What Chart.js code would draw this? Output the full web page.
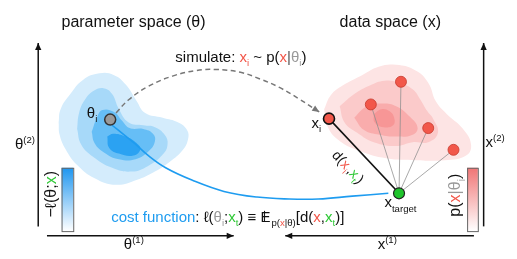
<!DOCTYPE html>
<html><head><meta charset="utf-8">
<script src="https://cdn.jsdelivr.net/npm/chart.js@4"></script>
<style>html,body{margin:0;padding:0;background:#fff;}canvas{display:block;}</style>
</head><body>
<canvas id="c" width="517" height="259"></canvas>
<script>
// ---- values (coordinates in the diagram's own units) ----
const thetaContour1 = [[53,122],[55,108],[65,92],[78,77],[95,70],[110,72],[122,82],[133,99],[142,112],[160,117],[176,122],[185,130],[186,140],[180,152],[168,163],[152,174],[133,183],[112,188],[90,181],[72,167],[60,150],[54,135]];
const thetaContour2 = [[72,129],[74,112],[80,98],[90,88],[100,86],[108,92],[115,108],[125,122],[140,125],[152,127],[162,135],[165,145],[160,156],[145,168],[128,174],[108,170],[88,158],[76,145]];
const thetaContour3 = [[87,132],[92,118],[98,109],[110,111],[118,120],[126,128],[140,129],[150,134],[152,142],[146,152],[132,161],[115,161],[100,154],[90,144]];
const thetaContour4 = [[103,137],[109,134],[122,137],[132,143],[137,150],[130,157],[115,155],[105,149]];

const xContour1 = [[326,108],[333,93],[345,83],[365,72],[382,63],[400,61],[420,67],[433,80],[441,100],[452,113],[468,128],[477,145],[472,157],[450,162],[420,162],[390,160],[362,152],[340,140],[329,125]];
const xContour2 = [[342,105],[357,92],[373,83],[388,78],[403,80],[417,87],[425,98],[432,110],[438,118],[443,133],[433,143],[417,143],[400,147],[377,143],[360,133],[347,122]];
const xContour3 = [[357,117],[370,105],[387,102],[400,105],[413,115],[422,127],[417,135],[400,137],[383,135],[367,130]];
const xContour4 = [[377,113],[385,108],[393,110],[398,117],[397,125],[387,127],[378,122]];

const thetaI = [[106,119]];
const xI = [[331,118]];
const xSamples = [[374,103],[405,79],[433,128],[459,151]];
const xTarget = [[403,197]];

const simulateArc = [[112,112],[125,98],[145,84],[170,73],[195,67],[215,66],[240,69],[260,76],[280,85],[300,97],[321,111]];
const costCurve = [[108,125],[120,135],[132,145],[145,157],[163,170],[190,183],[223,195],[257,201],[290,203],[320,203],[355,200],[392,197]];

const thetaAxisV = [[32,232],[32,38]];
const thetaAxisH = [[41,242],[233,242]];
const xAxisV = [[490,232],[490,38]];
const xAxisH = [[480,242],[286,242]];

// ---- styles ----
const RED = '#f2574a', GREEN = '#2fc936', BLUE = '#1e9cf0', GRAY = '#999';
const FONT = '"Liberation Sans", Arial, Helvetica, sans-serif';

const P = a => a.map(([x, y]) => ({x, y}));
const closed = a => P(a.concat([a[0]]));

function blob(data, color) {
  return {data: closed(data), backgroundColor: color, borderWidth: 0, fill: 'shape', tension: 0.45, pointRadius: 0};
}
function curve(data, color, width, extra) {
  return Object.assign({data: P(data), borderColor: color, borderWidth: width, fill: false, tension: 0.4, pointRadius: 0}, extra || {});
}
function dots(data, fill, stroke, r, bw) {
  return {data: P(data), showLine: false, pointRadius: r, pointBackgroundColor: fill, pointBorderColor: stroke, pointBorderWidth: bw};
}

const layers = [
  blob(thetaContour1, '#d4ecfc'),
  blob(thetaContour2, '#a7d9f9'),
  blob(thetaContour3, '#66bef6'),
  blob(thetaContour4, '#2ba2f2'),
  blob(xContour1, '#fde4e4'),
  blob(xContour2, '#fbcaca'),
  blob(xContour3, '#f9acac'),
  blob(xContour4, '#f79696'),
  ...xSamples.map(s => curve([xTarget[0], s], 'rgba(140,140,140,0.75)', 1, {tension: 0})),
  curve([xI[0], xTarget[0]], '#111', 1.6, {tension: 0}),
  curve(simulateArc, '#777', 1.5, {borderDash: [5, 3.5], arrowEnd: 7}),
  curve(costCurve, BLUE, 1.6),
  curve(thetaAxisV, '#111', 1.5, {tension: 0, arrowEnd: 7}),
  curve(thetaAxisH, '#111', 1.5, {tension: 0, arrowEnd: 7}),
  curve(xAxisV, '#111', 1.5, {tension: 0, arrowEnd: 7}),
  curve(xAxisH, '#111', 1.5, {tension: 0, arrowEnd: 7}),
  dots(thetaI, '#9a9a9a', '#333', 5.5, 1.5),
  dots(xSamples, RED, '#c5392c', 5.5, 0.8),
  dots(xI, RED, '#111', 5.5, 1.6),
  dots(xTarget, '#1fc42c', '#222', 5.5, 1.2),
];
layers.forEach((d, i) => { d.order = layers.length - i; d.clip = false; });

// rich text: segments [text, color, kind]
function rich(ctx, segs, x, y, size, align) {
  const parts = segs.map(([t, c, k]) => {
    const s = (k === 'sub' || k === 'sup') ? size * 0.64 : size;
    ctx.font = s + 'px ' + FONT;
    const w = k === 'bb' ? ctx.measureText('E').width + 1 : ctx.measureText(t).width;
    return {t, c: c || '#111', k, s, w};
  });
  const total = parts.reduce((a, p) => a + p.w, 0);
  let cx = align === 'center' ? x - total / 2 : x;
  ctx.textBaseline = 'alphabetic'; ctx.textAlign = 'left';
  for (const p of parts) {
    ctx.font = p.s + 'px ' + FONT;
    ctx.fillStyle = p.c;
    let dy = 0;
    if (p.k === 'sub') dy = size * 0.28;
    if (p.k === 'sup') dy = -size * 0.42;
    if (p.k === 'bb') {
      ctx.fillText('E', cx, y);
      ctx.fillRect(cx + size * 0.24, y - size * 0.72, 1, size * 0.72);
    } else ctx.fillText(p.t, cx, y + dy);
    cx += p.w;
  }
}

const decor = {
  id: 'decor',
  afterDatasetsDraw(chart) {
    const ctx = chart.ctx, X = v => chart.scales.x.getPixelForValue(v), Y = v => chart.scales.y.getPixelForValue(v);
    // arrow heads at the end of flagged lines
    chart.data.datasets.forEach((ds, i) => {
      if (!ds.arrowEnd) return;
      const pts = chart.getDatasetMeta(i).data;
      const a = pts[pts.length - 2], b = pts[pts.length - 1];
      const ang = Math.atan2(b.y - a.y, b.x - a.x), L = ds.arrowEnd, W = L * 0.45;
      ctx.save();
      ctx.fillStyle = ds.borderColor;
      ctx.beginPath();
      ctx.moveTo(b.x, b.y);
      ctx.lineTo(b.x - L * Math.cos(ang) + W * Math.sin(ang), b.y - L * Math.sin(ang) - W * Math.cos(ang));
      ctx.lineTo(b.x - L * Math.cos(ang) - W * Math.sin(ang), b.y - L * Math.sin(ang) + W * Math.cos(ang));
      ctx.closePath(); ctx.fill();
      ctx.restore();
    });
  },
  afterDraw(chart) {
    const ctx = chart.ctx, X = v => chart.scales.x.getPixelForValue(v), Y = v => chart.scales.y.getPixelForValue(v);
    ctx.save();
    // colour bars
    const bars = [[56, 68, '#1e96f0'], [473, 484, '#f07575']];
    for (const [x0, x1, c] of bars) {
      const g = ctx.createLinearGradient(0, Y(170), 0, Y(237));
      g.addColorStop(0, c); g.addColorStop(1, '#ffffff');
      ctx.fillStyle = g;
      ctx.fillRect(X(x0), Y(170), X(x1) - X(x0), Y(237) - Y(170));
      ctx.strokeStyle = '#666'; ctx.lineWidth = 1;
      ctx.strokeRect(X(x0) + 0.5, Y(170) + 0.5, X(x1) - X(x0), Y(237) - Y(170));
    }
    // titles
    rich(ctx, [['parameter space (θ)']], X(130), Y(21), 16, 'center');
    rich(ctx, [['data space (x)']], X(394), Y(21), 16, 'center');
    rich(ctx, [['simulate: '], ['x', RED], ['i', RED, 'sub'], [' ~ p('], ['x', RED], ['|', '#555'], ['θ', GRAY], ['i', GRAY, 'sub'], [')']], X(173), Y(58), 15, 'left');
    // axis labels
    rich(ctx, [['θ'], ['(2)', null, 'sup']], X(8), Y(150), 15, 'left');
    rich(ctx, [['θ'], ['(1)', null, 'sup']], X(120), Y(256), 15, 'left');
    rich(ctx, [['x'], ['(2)', null, 'sup']], X(492), Y(148), 15, 'left');
    rich(ctx, [['x'], ['(1)', null, 'sup']], X(381), Y(256), 15, 'left');
    // point labels
    rich(ctx, [['θ'], ['i', null, 'sub']], X(82), Y(117), 15, 'left');
    rich(ctx, [['x'], ['i', null, 'sub']], X(313), Y(128), 15, 'left');
    rich(ctx, [['x'], ['target', null, 'sub']], X(388), Y(212), 15, 'left');
    // cost function
    rich(ctx, [['cost function', BLUE], [': ℓ('], ['θ', GRAY], ['i', GRAY, 'sub'], [';'], ['x', GREEN], ['t', GREEN, 'sub'], [') ≡ '], ['', null, 'bb'],
               ['p(', null, 'sub'], ['x', RED, 'sub'], ['|θ)', null, 'sub'], ['[d('], ['x', RED], [','], ['x', GREEN], ['t', GREEN, 'sub'], [')]']], X(107), Y(227), 15, 'left');
    // rotated distance label
    ctx.save();
    ctx.translate(X(351), Y(169));
    ctx.rotate(47 * Math.PI / 180);
    rich(ctx, [['d('], ['x', RED], ['i', RED, 'sub'], [','], ['x', GREEN], ['t', GREEN, 'sub'], [')']], 0, 5, 14, 'center');
    ctx.restore();
    // colour bar labels
    ctx.save();
    ctx.translate(X(50), Y(198));
    ctx.rotate(-Math.PI / 2);
    rich(ctx, [['−ℓ(θ;'], ['x', GREEN], [')']], 0, 0, 16, 'center');
    ctx.restore();
    ctx.save();
    ctx.translate(X(466), Y(199));
    ctx.rotate(-Math.PI / 2);
    rich(ctx, [['p('], ['x', RED], ['|θ', GRAY], ['i', GRAY, 'sub'], [')']], 0, 0, 16, 'center');
    ctx.restore();
    ctx.restore();
  }
};

new Chart(document.getElementById('c'), {
  type: 'line',
  data: {datasets: layers},
  options: {
    responsive: false, animation: false, events: [], devicePixelRatio: 1,
    layout: {padding: 0},
    plugins: {legend: {display: false}, tooltip: {enabled: false}, title: {display: false}},
    scales: {
      x: {type: 'linear', min: 0, max: 517, display: false},
      y: {type: 'linear', min: 0, max: 259, reverse: true, display: false}
    }
  },
  plugins: [decor]
});
</script>
</body></html>
